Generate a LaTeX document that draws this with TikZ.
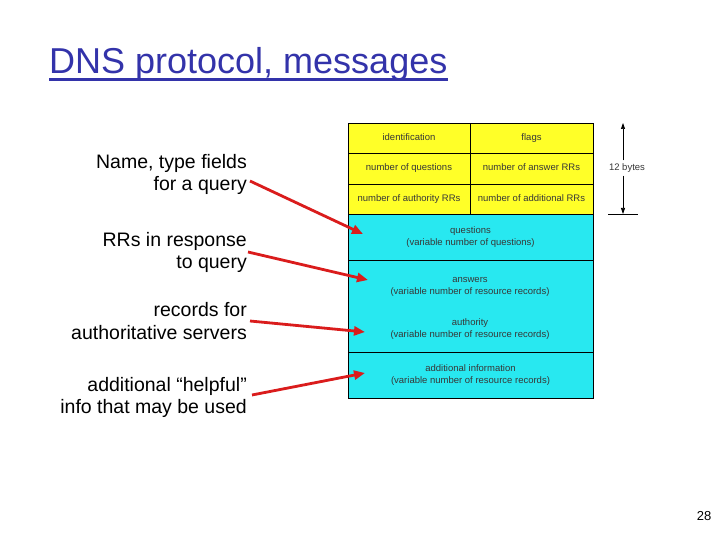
\documentclass[tikz,border=0pt]{standalone}
\usepackage{fontspec}
\setmainfont{Liberation Sans}
\usetikzlibrary{arrows.meta,calc}
\definecolor{titleblue}{RGB}{51,51,170}
\definecolor{cellyellow}{RGB}{255,255,40}
\definecolor{cellcyan}{RGB}{40,232,240}
\definecolor{arrowred}{RGB}{218,28,28}
\definecolor{celltext}{RGB}{55,55,55}
\begin{document}
\begin{tikzpicture}[x=1pt,y=-1pt,
  cellbox/.style={draw=black, line width=0.8pt, inner sep=0pt, outer sep=0pt, anchor=north west, text=celltext, font=\fontsize{9.5}{11.5}\selectfont, align=center},
  ycell/.style={cellbox, fill=cellyellow, text height=7pt, text depth=2pt},
  ccell/.style={cellbox, fill=cellcyan},
  celltxt/.style={inner sep=0pt, text=celltext, font=\fontsize{9.5}{12}\selectfont, align=center},
  lbl/.style={anchor=east, align=right, inner sep=0pt, font=\fontsize{19.5}{22.5}\selectfont},
  redarrow/.style={draw=arrowred, line width=2.8pt, -{Triangle[length=11pt,width=9pt]}},
  dimarrow/.style={draw=black, line width=0.7pt, -{Triangle[length=6pt,width=4pt]}}
]
\useasboundingbox (0,0) rectangle (720,540);

% title
\node[anchor=base west, inner sep=0pt, font=\fontsize{36}{42}\selectfont, text=titleblue] (title) at (49,74) {DNS protocol, messages};
\draw[titleblue, line width=2.8pt] ($(title.base west)+(0,5.5)$) -- ($(title.base east)+(0,5.5)$);

% header fields
\node[ycell, minimum width=122pt, minimum height=30pt] (ident) at (348,123) {identification};
\node[ycell, minimum width=123pt, minimum height=30pt] (flags) at (470,123) {flags};
\node[ycell, minimum width=122pt, minimum height=31pt] (nq) at (348,153) {number of questions};
\node[ycell, minimum width=123pt, minimum height=31pt] (nan) at (470,153) {number of answer RRs};
\node[ycell, minimum width=122pt, minimum height=30pt] (nau) at (348,184) {number of authority RRs};
\node[ycell, minimum width=123pt, minimum height=30pt] (nad) at (470,184) {number of additional RRs};

% variable sections
\node[ccell, minimum width=245pt, minimum height=46pt] (quest) at (348,214) {questions\\(variable number of questions)};
\node[ccell, minimum width=245pt, minimum height=92pt] (ansauth) at (348,260) {};
\node[celltxt] (ans) at (470,286.5) {answers\\(variable number of resource records)};
\node[celltxt] (auth) at (470,329) {authority\\(variable number of resource records)};
\node[ccell, minimum width=245pt, minimum height=46pt] (addl) at (348,352) {additional information\\(variable number of resource records)};

% 12 bytes dimension
\node[inner sep=1pt, font=\fontsize{9.5}{11}\selectfont, text=celltext] (bytes) at (627,168) {12 bytes};
\coordinate (btop) at (623,123);
\coordinate (bbot) at (623,214);
\coordinate (tickL) at (608,214);
\coordinate (tickR) at (638,214);
\draw[dimarrow] ($(btop |- bytes.north)+(0,-2)$) -- (btop);
\draw[dimarrow] ($(bbot |- bytes.south)+(0,2)$) -- (bbot);
\draw[black, line width=0.8pt] (tickL) -- (tickR);

% labels
\node[lbl] (l1) at (247,174.5) {Name, type fields\\for a query};
\node[lbl] (l2) at (247,252.5) {RRs in response\\to query};
\node[lbl] (l3) at (247,321) {records for\\authoritative servers};
\node[lbl] (l4) at (247,397.5) {additional “helpful”\\info that may be used};

% arrow tips
\coordinate (t1) at (363,234);
\coordinate (t2) at (368,280);
\coordinate (t3) at (365,332);
\coordinate (t4) at (365,373);

\draw[redarrow] ($(l1.east)+(3,6.5)$) -- (t1);
\draw[redarrow] ($(l2.east)+(1,-0.5)$) -- (t2);
\draw[redarrow] ($(l3.east)+(3,0)$) -- (t3);
\draw[redarrow] ($(l4.east)+(5,-2.5)$) -- (t4);

% page number
\node[inner sep=0pt, font=\fontsize{13}{15}\selectfont] (page) at (704,516) {28};
\end{tikzpicture}
\end{document}
